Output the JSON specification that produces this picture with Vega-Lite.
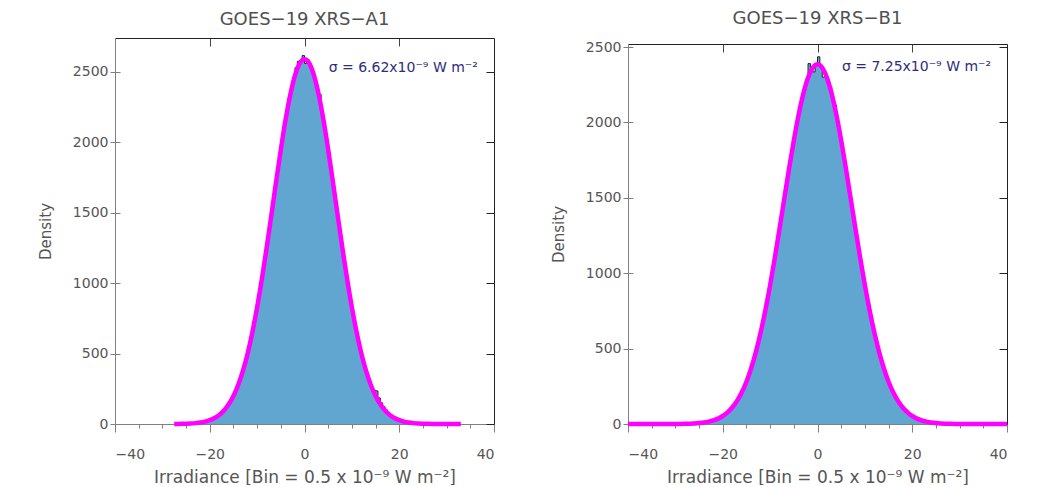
{
  "$schema": "https://vega.github.io/schema/vega-lite/v6.json",
  "background": "white",
  "padding": {"left": 38, "top": 10, "right": 10, "bottom": 0},
  "bounds": "full",
  "spacing": 56,
  "datasets": {
    "histA": [
      {"x": -25, "density": 2}, {"x": -24.5, "density": 3}, {"x": -24, "density": 4}, {"x": -23.5, "density": 5},
      {"x": -23, "density": 7}, {"x": -22.5, "density": 10}, {"x": -22, "density": 12}, {"x": -21.5, "density": 16},
      {"x": -21, "density": 19}, {"x": -20.5, "density": 25}, {"x": -20, "density": 30}, {"x": -19.5, "density": 39},
      {"x": -19, "density": 47}, {"x": -18.5, "density": 60}, {"x": -18, "density": 72}, {"x": -17.5, "density": 86},
      {"x": -17, "density": 108}, {"x": -16.5, "density": 126}, {"x": -16, "density": 155}, {"x": -15.5, "density": 180},
      {"x": -15, "density": 219}, {"x": -14.5, "density": 252}, {"x": -14, "density": 304}, {"x": -13.5, "density": 345},
      {"x": -13, "density": 410}, {"x": -12.5, "density": 462}, {"x": -12, "density": 541}, {"x": -11.5, "density": 605},
      {"x": -11, "density": 725}, {"x": -10.5, "density": 790}, {"x": -10, "density": 872}, {"x": -9.5, "density": 985},
      {"x": -9, "density": 1076}, {"x": -8.5, "density": 1196}, {"x": -8, "density": 1300}, {"x": -7.5, "density": 1430},
      {"x": -7, "density": 1535}, {"x": -6.5, "density": 1668}, {"x": -6, "density": 1770}, {"x": -5.5, "density": 1898},
      {"x": -5, "density": 1995}, {"x": -4.5, "density": 2115}, {"x": -4, "density": 2200}, {"x": -3.5, "density": 2310},
      {"x": -3, "density": 2370}, {"x": -2.5, "density": 2460}, {"x": -2, "density": 2530}, {"x": -1.5, "density": 2575},
      {"x": -1, "density": 2580}, {"x": -0.5, "density": 2615}, {"x": 0, "density": 2560}, {"x": 0.5, "density": 2585},
      {"x": 1, "density": 2535}, {"x": 1.5, "density": 2500}, {"x": 2, "density": 2440}, {"x": 2.5, "density": 2380},
      {"x": 3, "density": 2340}, {"x": 3.5, "density": 2210}, {"x": 4, "density": 2100}, {"x": 4.5, "density": 2005},
      {"x": 5, "density": 1885}, {"x": 5.5, "density": 1780}, {"x": 6, "density": 1655}, {"x": 6.5, "density": 1545},
      {"x": 7, "density": 1418}, {"x": 7.5, "density": 1310}, {"x": 8, "density": 1185}, {"x": 8.5, "density": 1085},
      {"x": 9, "density": 972}, {"x": 9.5, "density": 880}, {"x": 10, "density": 778}, {"x": 10.5, "density": 697},
      {"x": 11, "density": 608}, {"x": 11.5, "density": 540}, {"x": 12, "density": 466}, {"x": 12.5, "density": 410},
      {"x": 13, "density": 352}, {"x": 13.5, "density": 305}, {"x": 14, "density": 262}, {"x": 14.5, "density": 240},
      {"x": 15, "density": 235}, {"x": 15.5, "density": 185}, {"x": 16, "density": 150}, {"x": 16.5, "density": 122},
      {"x": 17, "density": 100}, {"x": 17.5, "density": 82}, {"x": 18, "density": 66}, {"x": 18.5, "density": 54},
      {"x": 19, "density": 45}, {"x": 19.5, "density": 40}, {"x": 20, "density": 34}, {"x": 20.5, "density": 28},
      {"x": 21, "density": 22}, {"x": 21.5, "density": 17}, {"x": 22, "density": 13}, {"x": 22.5, "density": 10},
      {"x": 23, "density": 7}, {"x": 23.5, "density": 5}, {"x": 24, "density": 4}, {"x": 24.5, "density": 3},
      {"x": 25, "density": 0}
    ],
    "fitA": [
      {"x": -27.5, "fit": 0.3}, {"x": -27, "fit": 0.6}, {"x": -26, "fit": 1.2}, {"x": -25, "fit": 2.1},
      {"x": -24, "fit": 3.6}, {"x": -23, "fit": 6.2}, {"x": -22, "fit": 10.4}, {"x": -21, "fit": 16.9},
      {"x": -20, "fit": 27}, {"x": -19, "fit": 42.1}, {"x": -18, "fit": 64.3}, {"x": -17, "fit": 95.8},
      {"x": -16, "fit": 140}, {"x": -15, "fit": 199}, {"x": -14, "fit": 277}, {"x": -13, "fit": 377},
      {"x": -12, "fit": 501}, {"x": -11, "fit": 651}, {"x": -10, "fit": 828}, {"x": -9, "fit": 1028},
      {"x": -8, "fit": 1248}, {"x": -7, "fit": 1481}, {"x": -6, "fit": 1718}, {"x": -5, "fit": 1947},
      {"x": -4, "fit": 2158}, {"x": -3, "fit": 2337}, {"x": -2, "fit": 2474}, {"x": -1, "fit": 2561},
      {"x": 0, "fit": 2590},
      {"x": 1, "fit": 2561}, {"x": 2, "fit": 2474}, {"x": 3, "fit": 2337}, {"x": 4, "fit": 2158},
      {"x": 5, "fit": 1947}, {"x": 6, "fit": 1718}, {"x": 7, "fit": 1481}, {"x": 8, "fit": 1248},
      {"x": 9, "fit": 1028}, {"x": 10, "fit": 828}, {"x": 11, "fit": 651}, {"x": 12, "fit": 501},
      {"x": 13, "fit": 377}, {"x": 14, "fit": 277}, {"x": 15, "fit": 199}, {"x": 16, "fit": 140},
      {"x": 17, "fit": 95.8}, {"x": 18, "fit": 64.3}, {"x": 19, "fit": 42.1}, {"x": 20, "fit": 27},
      {"x": 21, "fit": 16.9}, {"x": 22, "fit": 10.4}, {"x": 23, "fit": 6.2}, {"x": 24, "fit": 3.6},
      {"x": 25, "fit": 2.1}, {"x": 26, "fit": 1.2}, {"x": 27, "fit": 0.6}, {"x": 28, "fit": 0.3},
      {"x": 29, "fit": 0.1}, {"x": 30, "fit": 0}, {"x": 31, "fit": 0}, {"x": 32, "fit": 0}, {"x": 33, "fit": 0}
    ],
    "histB": [
      {"x": -25, "density": 7}, {"x": -24.5, "density": 8}, {"x": -24, "density": 11}, {"x": -23.5, "density": 13},
      {"x": -23, "density": 17}, {"x": -22.5, "density": 20}, {"x": -22, "density": 27}, {"x": -21.5, "density": 32},
      {"x": -21, "density": 41}, {"x": -20.5, "density": 47}, {"x": -20, "density": 59}, {"x": -19.5, "density": 69},
      {"x": -19, "density": 85}, {"x": -18.5, "density": 99}, {"x": -18, "density": 121}, {"x": -17.5, "density": 140},
      {"x": -17, "density": 168}, {"x": -16.5, "density": 196}, {"x": -16, "density": 228}, {"x": -15.5, "density": 258},
      {"x": -15, "density": 305}, {"x": -14.5, "density": 342}, {"x": -14, "density": 398}, {"x": -13.5, "density": 444},
      {"x": -13, "density": 512}, {"x": -12.5, "density": 566}, {"x": -12, "density": 646}, {"x": -11.5, "density": 710},
      {"x": -11, "density": 800}, {"x": -10.5, "density": 872}, {"x": -10, "density": 972}, {"x": -9.5, "density": 1050},
      {"x": -9, "density": 1158}, {"x": -8.5, "density": 1242}, {"x": -8, "density": 1352}, {"x": -7.5, "density": 1440},
      {"x": -7, "density": 1552}, {"x": -6.5, "density": 1640}, {"x": -6, "density": 1748}, {"x": -5.5, "density": 1830},
      {"x": -5, "density": 1930}, {"x": -4.5, "density": 2000}, {"x": -4, "density": 2095}, {"x": -3.5, "density": 2150},
      {"x": -3, "density": 2210}, {"x": -2.5, "density": 2280}, {"x": -2, "density": 2390}, {"x": -1.5, "density": 2365},
      {"x": -1, "density": 2335}, {"x": -0.5, "density": 2390}, {"x": 0, "density": 2435}, {"x": 0.5, "density": 2378},
      {"x": 1, "density": 2300}, {"x": 1.5, "density": 2325}, {"x": 2, "density": 2262}, {"x": 2.5, "density": 2235},
      {"x": 3, "density": 2165}, {"x": 3.5, "density": 2115}, {"x": 4, "density": 2010}, {"x": 4.5, "density": 1915},
      {"x": 5, "density": 1840}, {"x": 5.5, "density": 1735}, {"x": 6, "density": 1655}, {"x": 6.5, "density": 1540},
      {"x": 7, "density": 1450}, {"x": 7.5, "density": 1350}, {"x": 8, "density": 1245}, {"x": 8.5, "density": 1155},
      {"x": 9, "density": 1060}, {"x": 9.5, "density": 960}, {"x": 10, "density": 885}, {"x": 10.5, "density": 790},
      {"x": 11, "density": 722}, {"x": 11.5, "density": 650}, {"x": 12, "density": 578}, {"x": 12.5, "density": 500},
      {"x": 13, "density": 455}, {"x": 13.5, "density": 392}, {"x": 14, "density": 350}, {"x": 14.5, "density": 298},
      {"x": 15, "density": 265}, {"x": 15.5, "density": 222}, {"x": 16, "density": 198}, {"x": 16.5, "density": 168},
      {"x": 17, "density": 145}, {"x": 17.5, "density": 118}, {"x": 18, "density": 102}, {"x": 18.5, "density": 82},
      {"x": 19, "density": 71}, {"x": 19.5, "density": 57}, {"x": 20, "density": 49}, {"x": 20.5, "density": 39},
      {"x": 21, "density": 33}, {"x": 21.5, "density": 26}, {"x": 22, "density": 21}, {"x": 22.5, "density": 17},
      {"x": 23, "density": 14}, {"x": 23.5, "density": 11}, {"x": 24, "density": 9}, {"x": 24.5, "density": 7},
      {"x": 25, "density": 0}
    ],
    "fitB": [
      {"x": -40, "fit": 0}, {"x": -35, "fit": 0}, {"x": -32, "fit": 0}, {"x": -31, "fit": 0.2},
      {"x": -30, "fit": 0.5}, {"x": -29, "fit": 0.8}, {"x": -28, "fit": 1.4}, {"x": -27, "fit": 2.3},
      {"x": -26, "fit": 3.8}, {"x": -25, "fit": 6.2}, {"x": -24, "fit": 9.9}, {"x": -23, "fit": 15.6},
      {"x": -22, "fit": 23.9}, {"x": -21, "fit": 35.9}, {"x": -20, "fit": 53.1}, {"x": -19, "fit": 76.9},
      {"x": -18, "fit": 109.4}, {"x": -17, "fit": 152.6}, {"x": -16, "fit": 208.9}, {"x": -15, "fit": 280.5},
      {"x": -14, "fit": 370}, {"x": -13, "fit": 478}, {"x": -12, "fit": 606}, {"x": -11, "fit": 754},
      {"x": -10, "fit": 921}, {"x": -9, "fit": 1104}, {"x": -8, "fit": 1297}, {"x": -7, "fit": 1496},
      {"x": -6, "fit": 1694}, {"x": -5, "fit": 1880}, {"x": -4, "fit": 2048}, {"x": -3, "fit": 2189},
      {"x": -2, "fit": 2296}, {"x": -1, "fit": 2362}, {"x": 0, "fit": 2385},
      {"x": 1, "fit": 2362}, {"x": 2, "fit": 2296}, {"x": 3, "fit": 2189}, {"x": 4, "fit": 2048},
      {"x": 5, "fit": 1880}, {"x": 6, "fit": 1694}, {"x": 7, "fit": 1496}, {"x": 8, "fit": 1297},
      {"x": 9, "fit": 1104}, {"x": 10, "fit": 921}, {"x": 11, "fit": 754}, {"x": 12, "fit": 606},
      {"x": 13, "fit": 478}, {"x": 14, "fit": 370}, {"x": 15, "fit": 280.5}, {"x": 16, "fit": 208.9},
      {"x": 17, "fit": 152.6}, {"x": 18, "fit": 109.4}, {"x": 19, "fit": 76.9}, {"x": 20, "fit": 53.1},
      {"x": 21, "fit": 35.9}, {"x": 22, "fit": 23.9}, {"x": 23, "fit": 15.6}, {"x": 24, "fit": 9.9},
      {"x": 25, "fit": 6.2}, {"x": 26, "fit": 3.8}, {"x": 27, "fit": 2.3}, {"x": 28, "fit": 1.4},
      {"x": 29, "fit": 0.8}, {"x": 30, "fit": 0.5}, {"x": 31, "fit": 0.2}, {"x": 32, "fit": 0},
      {"x": 35, "fit": 0}, {"x": 40, "fit": 0}
    ]
  },
  "hconcat": [
    {
      "width": 379,
      "height": 386,
      "title": {"text": "GOES−19 XRS−A1", "offset": 9},
      "resolve": {"axis": {"x": "independent", "y": "independent"}},
      "layer": [
        {
          "data": {"name": "histA"},
          "mark": {"type": "area", "interpolate": "step-after", "color": "#61a6d1", "opacity": 1},
          "encoding": {
            "x": {"field": "x", "type": "quantitative", "scale": {"domain": [-40, 40], "nice": false},
              "axis": {"orient": "bottom", "values": [-40, -20, 0, 20, 40], "tickSize": 8, "labelPadding": 15, "title": "Irradiance [Bin = 0.5 x 10⁻⁹ W m⁻²]", "titleFontSize": 17, "titlePadding": 8}},
            "y": {"field": "density", "type": "quantitative", "scale": {"domain": [0, 2740], "nice": false},
              "axis": {"orient": "left", "values": [0, 500, 1000, 1500, 2000, 2500], "format": "d", "tickSize": 5, "labelPadding": 2, "title": "Density", "titlePadding": 19}}
          }
        },
        {
          "data": {"name": "histA"},
          "mark": {"type": "line", "interpolate": "step-after", "color": "#222222", "strokeWidth": 1},
          "encoding": {
            "x": {"field": "x", "type": "quantitative", "scale": {"domain": [-40, 40], "nice": false},
              "axis": {"orient": "bottom", "values": [-35, -30, -25, -15, -10, -5, 5, 10, 15, 25, 30, 35], "tickSize": 4, "labels": false, "domain": false, "title": null}},
            "y": {"field": "density", "type": "quantitative", "scale": {"domain": [0, 2740], "nice": false},
              "axis": {"orient": "right", "values": [0, 500, 1000, 1500, 2000, 2500], "tickSize": -8, "labels": false, "domainColor": "#222222", "tickColor": "#222222", "title": null}}
          }
        },
        {
          "data": {"name": "fitA"},
          "mark": {"type": "line", "interpolate": "monotone", "color": "#ff00ff", "strokeWidth": 4.5},
          "encoding": {
            "x": {"field": "x", "type": "quantitative", "scale": {"domain": [-40, 40], "nice": false},
              "axis": {"orient": "top", "values": [-20, 0, 20], "tickSize": -8, "labels": false, "domainColor": "#222222", "tickColor": "#444444", "title": null}},
            "y": {"field": "fit", "type": "quantitative", "scale": {"domain": [0, 2740], "nice": false},
              "axis": {"orient": "left", "values": [500, 1000, 1500, 2000, 2500], "tickSize": -5, "labels": false, "domain": false, "title": null}}
          }
        },
        {
          "data": {"values": [{}]},
          "mark": {"type": "text", "align": "left", "baseline": "middle", "fontSize": 14, "color": "#2d2d80", "font": "DejaVu Sans"},
          "encoding": {
            "x": {"datum": 5.1, "type": "quantitative", "axis": null},
            "y": {"datum": 2528, "type": "quantitative", "axis": null},
            "text": {"value": "σ = 6.62x10⁻⁹ W m⁻²"}
          }
        }
      ]
    },
    {
      "bounds": "flush",
      "spacing": 5,
      "vconcat": [
        {
          "width": 379,
          "height": 1,
          "data": {"values": []},
          "mark": {"type": "point", "opacity": 0},
          "encoding": {}
        },
        {
          "width": 379,
          "height": 380,
          "title": {"text": "GOES−19 XRS−B1", "offset": 12},
          "resolve": {"axis": {"x": "independent", "y": "independent"}},
          "layer": [
            {
              "data": {"name": "histB"},
              "mark": {"type": "area", "interpolate": "step-after", "color": "#61a6d1", "opacity": 1},
              "encoding": {
                "x": {"field": "x", "type": "quantitative", "scale": {"domain": [-40, 40], "nice": false},
                  "axis": {"orient": "bottom", "values": [-40, -20, 0, 20, 40], "tickSize": 8, "labelPadding": 15, "title": "Irradiance [Bin = 0.5 x 10⁻⁹ W m⁻²]", "titleFontSize": 17, "titlePadding": 8}},
                "y": {"field": "density", "type": "quantitative", "scale": {"domain": [0, 2520], "nice": false},
                  "axis": {"orient": "left", "values": [0, 500, 1000, 1500, 2000, 2500], "format": "d", "tickSize": 5, "labelPadding": 2, "title": "Density", "titlePadding": 19}}
              }
            },
            {
              "data": {"name": "histB"},
              "mark": {"type": "line", "interpolate": "step-after", "color": "#222222", "strokeWidth": 1},
              "encoding": {
                "x": {"field": "x", "type": "quantitative", "scale": {"domain": [-40, 40], "nice": false},
                  "axis": {"orient": "bottom", "values": [-35, -30, -25, -15, -10, -5, 5, 10, 15, 25, 30, 35], "tickSize": 4, "labels": false, "domain": false, "title": null}},
                "y": {"field": "density", "type": "quantitative", "scale": {"domain": [0, 2520], "nice": false},
                  "axis": {"orient": "right", "values": [0, 500, 1000, 1500, 2000, 2500], "tickSize": -8, "labels": false, "domainColor": "#222222", "tickColor": "#222222", "title": null}}
              }
            },
            {
              "data": {"name": "fitB"},
              "mark": {"type": "line", "interpolate": "monotone", "color": "#ff00ff", "strokeWidth": 4.5},
              "encoding": {
                "x": {"field": "x", "type": "quantitative", "scale": {"domain": [-40, 40], "nice": false},
                  "axis": {"orient": "top", "values": [-20, 0, 20], "tickSize": -8, "labels": false, "domainColor": "#222222", "tickColor": "#444444", "title": null}},
                "y": {"field": "fit", "type": "quantitative", "scale": {"domain": [0, 2520], "nice": false},
                  "axis": {"orient": "left", "values": [500, 1000, 1500, 2000, 2500], "tickSize": -5, "labels": false, "domain": false, "title": null}}
              }
            },
            {
              "data": {"values": [{}]},
              "mark": {"type": "text", "align": "left", "baseline": "middle", "fontSize": 14, "color": "#2d2d80", "font": "DejaVu Sans"},
              "encoding": {
                "x": {"datum": 5.15, "type": "quantitative", "axis": null},
                "y": {"datum": 2367, "type": "quantitative", "axis": null},
                "text": {"value": "σ = 7.25x10⁻⁹ W m⁻²"}
              }
            }
          ]
        }
      ]
    }
  ],
  "config": {
    "view": {"stroke": null},
    "font": "DejaVu Sans",
    "axis": {
      "grid": false,
      "labelFont": "DejaVu Sans",
      "titleFont": "DejaVu Sans",
      "labelColor": "#555555",
      "titleColor": "#555555",
      "titleFontWeight": "normal",
      "labelFontSize": 14,
      "titleFontSize": 15,
      "domainColor": "#808080",
      "tickColor": "#808080"
    },
    "title": {"font": "DejaVu Sans", "fontSize": 18, "fontWeight": "normal", "color": "#505050", "anchor": "middle"}
  }
}
